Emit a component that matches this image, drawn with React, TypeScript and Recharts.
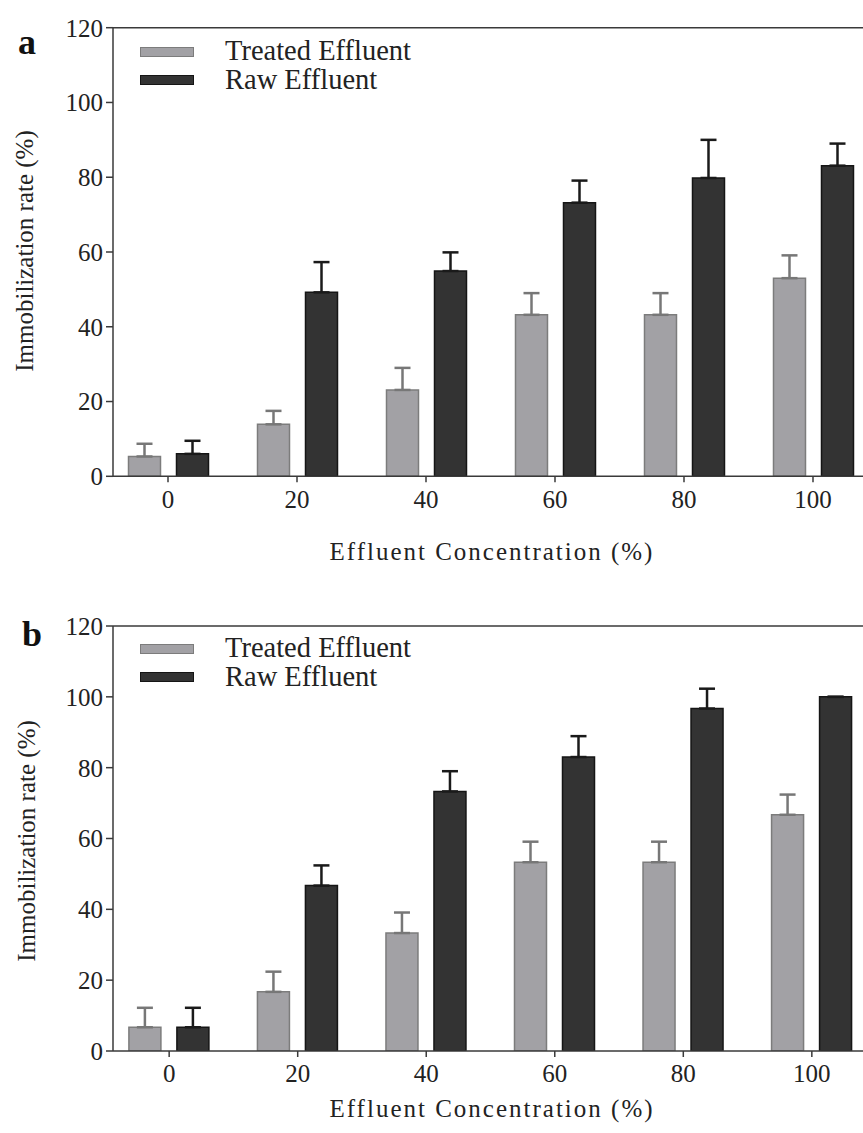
import React from "react";
import { Bar, BarChart, ErrorBar, Label, Legend, ReferenceLine, XAxis, YAxis } from "recharts";

const FONT = '"Liberation Serif", "Times New Roman", serif';
const INK = "#222";
const AXIS_COLOR = "#3a3a3a";
const TREATED_FILL = "#a2a1a5";
const TREATED_EDGE = "#7c7c7c";
const RAW_FILL = "#333333";
const RAW_EDGE = "#151515";

const concentrations = ["0", "20", "40", "60", "80", "100"];
const yTicks = [0, 20, 40, 60, 80, 100, 120];

// panel a
const treatedA = [5.3, 13.9, 23.1, 43.2, 43.2, 53.0];
const treatedErrA = [3.4, 3.6, 5.9, 5.8, 5.8, 6.1];
const rawA = [6.0, 49.2, 54.9, 73.2, 79.8, 83.1];
const rawErrA = [3.5, 8.1, 5.0, 5.9, 10.2, 5.9];

// panel b
const treatedB = [6.7, 16.7, 33.3, 53.3, 53.3, 66.7];
const treatedErrB = [5.5, 5.7, 5.8, 5.8, 5.8, 5.7];
const rawB = [6.7, 46.7, 73.3, 83.0, 96.7, 100];
const rawErrB = [5.5, 5.7, 5.7, 5.9, 5.6, 0];

function rows(treated: number[], treatedErr: number[], raw: number[], rawErr: number[]) {
  return concentrations.map((c, i) => ({
    conc: c,
    treated: treated[i],
    treatedErr: [0, treatedErr[i]],
    raw: raw[i],
    rawErr: [0, rawErr[i]],
  }));
}

const LEGEND_ITEMS = [
  { name: "Treated Effluent", fill: TREATED_FILL, edge: TREATED_EDGE },
  { name: "Raw Effluent", fill: RAW_FILL, edge: RAW_EDGE },
];

function LegendBox() {
  return (
    <div style={{ fontFamily: FONT, color: INK, fontSize: 28.5 }}>
      {LEGEND_ITEMS.map((it) => (
        <div key={it.name} style={{ display: "flex", alignItems: "center", height: 28.5, lineHeight: "28.5px" }}>
          <span style={{ width: 52, height: 8, background: it.fill, border: `1px solid ${it.edge}`, marginRight: 31, display: "inline-block" }} />
          <span style={{ whiteSpace: "nowrap" }}>{it.name}</span>
        </div>
      ))}
    </div>
  );
}

type PanelProps = {
  data: ReturnType<typeof rows>;
  top: number;
  marginTop: number;
  plotHeight: number;
  pad: number;
  tickMargin: number;
  yLabelX: number;
  xLabelY: number;
  legendTop: number;
  letter: string;
  letterX: number;
  letterY: number;
};

function Panel(p: PanelProps) {
  const axisLine = { stroke: AXIS_COLOR, strokeWidth: 1.5 };
  const tick = { fill: INK, fontSize: 25, fontFamily: FONT };
  return (
    <div style={{ position: "absolute", left: 0, top: p.top }}>
      <BarChart
        width={868}
        height={p.marginTop + p.plotHeight + 100}
        data={p.data}
        margin={{ top: p.marginTop, right: 0, bottom: 0, left: 0 }}
        barSize={32}
        barGap={16}
      >
        <XAxis
          dataKey="conc"
          height={100}
          interval={0}
          padding={{ left: -p.pad, right: -p.pad }}
          tickSize={6}
          tickMargin={p.tickMargin}
          axisLine={axisLine}
          tickLine={axisLine}
          tick={tick}
        >
          <Label
            content={() => (
              <text x={492} y={p.xLabelY} textAnchor="middle" fill={INK} fontSize={25} fontFamily={FONT} letterSpacing={2}>
                Effluent Concentration (%)
              </text>
            )}
          />
        </XAxis>
        <YAxis
          width={113}
          domain={[0, 120]}
          ticks={yTicks}
          allowDataOverflow
          tickSize={7}
          tickMargin={3}
          axisLine={axisLine}
          tickLine={axisLine}
          tick={tick}
        >
          <Label
            content={() => (
              <text
                x={p.yLabelX}
                y={251}
                transform={`rotate(-90 ${p.yLabelX} 251)`}
                textAnchor="middle"
                fill={INK}
                fontSize={25}
                fontFamily={FONT}
              >
                Immobilization rate (%)
              </text>
            )}
          />
        </YAxis>
        <ReferenceLine y={120} stroke={AXIS_COLOR} strokeWidth={1.5} ifOverflow="visible" />
        <Legend
          layout="horizontal"
          verticalAlign="middle"
          align="center"
          content={() => <LegendBox />}
          wrapperStyle={{ left: 140, top: p.legendTop, width: 400, height: 60 }}
        />
        <Bar dataKey="treated" name="Treated Effluent" fill={TREATED_FILL} stroke={TREATED_EDGE} strokeWidth={1.5} isAnimationActive={false}>
          <ErrorBar dataKey="treatedErr" direction="y" width={8} stroke="#777" strokeWidth={2.5} isAnimationActive={false} />
        </Bar>
        <Bar dataKey="raw" name="Raw Effluent" fill={RAW_FILL} stroke={RAW_EDGE} strokeWidth={1.5} isAnimationActive={false}>
          <ErrorBar dataKey="rawErr" direction="y" width={8} stroke="#1a1a1a" strokeWidth={2.5} isAnimationActive={false} />
        </Bar>
      </BarChart>
      <div
        style={{
          position: "absolute",
          left: p.letterX,
          top: p.letterY,
          fontFamily: FONT,
          fontWeight: "bold",
          fontSize: 36,
          lineHeight: "36px",
          color: "#111",
        }}
      >
        {p.letter}
      </div>
    </div>
  );
}

export default function App() {
  return (
    <div
      style={{
        position: "absolute",
        left: 0,
        top: 0,
        width: 863,
        height: 1133,
        overflow: "hidden",
        background: "#fff",
        fontFamily: FONT,
      }}
    >
      <Panel
        data={rows(treatedA, treatedErrA, rawA, rawErrA)}
        top={0}
        marginTop={27.7}
        plotHeight={448.6}
        pad={9.5}
        tickMargin={8}
        yLabelX={33}
        xLabelY={560}
        legendTop={37.4}
        letter="a"
        letterX={18}
        letterY={24}
      />
      <Panel
        data={rows(treatedB, treatedErrB, rawB, rawErrB)}
        top={590}
        marginTop={36}
        plotHeight={425}
        pad={8.1}
        tickMargin={7}
        yLabelX={35}
        xLabelY={527}
        legendTop={44.4}
        letter="b"
        letterX={22}
        letterY={26}
      />
    </div>
  );
}
